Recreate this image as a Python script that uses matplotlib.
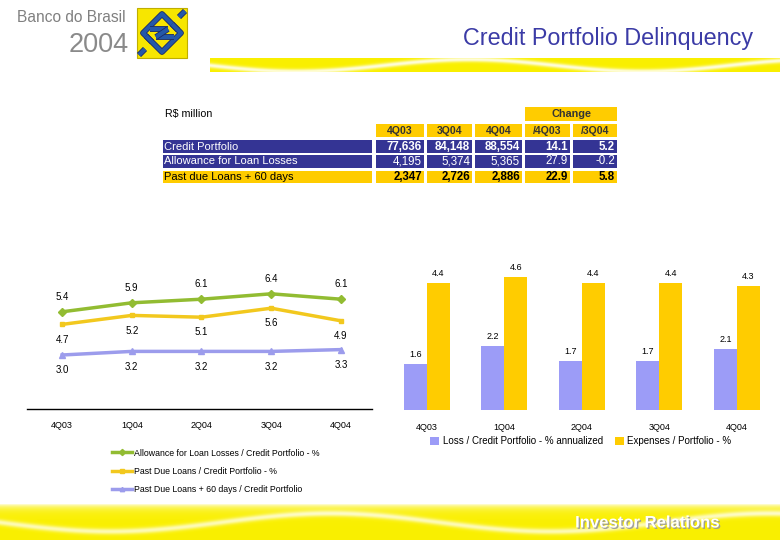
import numpy as np
import matplotlib.pyplot as plt
from matplotlib.patches import Rectangle
import matplotlib.patheffects as pe

plt.rcParams['font.family'] = ['Liberation Sans', 'DejaVu Sans']

# chart data
quarters = ['4Q03', '1Q04', '2Q04', '3Q04', '4Q04']
allowance_pct = [5.4, 5.9, 6.1, 6.4, 6.1]
past_due_pct = [4.7, 5.2, 5.1, 5.6, 4.9]
past_due_60_pct = [3.0, 3.2, 3.2, 3.2, 3.3]
loss_pct = [1.6, 2.2, 1.7, 1.7, 2.1]
expenses_pct = [4.4, 4.6, 4.4, 4.4, 4.3]

# table data (R$ million)
table_cols = ['4Q03', '3Q04', '4Q04', '/4Q03', '/3Q04']
table_rows = ['Credit Portfolio', 'Allowance for Loan Losses', 'Past due Loans + 60 days']
credit_portfolio = ['77,636', '84,148', '88,554', '14.1', '5.2']
allowance = ['4,195', '5,374', '5,365', '27.9', '-0.2']
past_due_60 = ['2,347', '2,726', '2,886', '22.9', '5.8']

GREEN = '#92bc32'
GOLD = '#f2c81e'
LILAC = '#9c9cec'
BAR_BLUE = '#9c9cf7'
BAR_YEL = '#ffcc00'
NAVY = '#343494'
W, H = 780, 540

fig = plt.figure(figsize=(7.8, 5.4), dpi=100)
bg = fig.add_axes([0, 0, 1, 1])
bg.axis('off')


def band(x0, x1, y0, y1, wave):
    xs = np.arange(x0, x1)
    ys = np.arange(y0, y1)
    X, Y = np.meshgrid(xs, ys)
    w = np.clip(wave(X, Y), 0, 1)
    yel = np.array([0.98, 0.94, 0.0])
    img = yel[None, None, :] * (1 - w[..., None]) + w[..., None]
    bg.imshow(img, extent=(x0, x1, y1, y0), aspect='auto', zorder=0)


# top yellow band with soft highlights
band(210, 780, 58, 72,
     lambda X, Y: 0.85 * np.exp(-((Y - (65 + 6 * np.sin((X - 210) / 55.0))) / 2.5) ** 2))
# bottom yellow band
band(0, 780, 503, 540,
     lambda X, Y: np.exp(-(Y - 503) / 4.0)
     + 0.7 * np.exp(-((Y - (522 + 9 * np.sin(X / 70.0))) / 3.0) ** 2))

bg.set_xlim(0, W)
bg.set_ylim(H, 0)

# header
bg.text(17, 18, 'Banco do Brasil', fontsize=11.2, color='#808080', va='center', ha='left')
bg.text(129, 45, '2004', fontsize=19.5, color='#8a8a8a', va='center', ha='right')
bg.text(753, 38, 'Credit Portfolio Delinquency', fontsize=16.8, color='#3b3ba6',
        va='center', ha='right')

# logo
bg.add_patch(Rectangle((137, 8), 50, 50, fc='#f7e600', ec='#bfae00', lw=0.8, zorder=2))
logo_paths = [[(152, 42), (143, 33), (162, 14), (178, 30)],
              [(172, 24), (181, 33), (162, 52), (146, 36)],
              [(150, 29), (168, 29)], [(156, 37), (174, 37)],
              [(168, 29), (156, 37)],
              [(139, 55), (145, 49)], [(179, 17), (185, 11)]]
for pts in logo_paths:
    xs, ys = zip(*pts)
    bg.plot(xs, ys, color='#2458a8', lw=3.0, solid_capstyle='butt', zorder=3,
            path_effects=[pe.Stroke(linewidth=4.2, foreground='#1a2a66'), pe.Normal()])

# table
bg.text(165, 114, 'R\\$ million', fontsize=7.7, va='center', ha='left')
col_x = [(376, 424), (427, 472), (475, 522), (525, 570), (573, 617)]
row_y = [(140, 153), (155, 168), (171, 183)]
row_vals = [credit_portfolio, allowance, past_due_60]
row_fc = [NAVY, NAVY, BAR_YEL]
row_tc = ['white', 'white', 'black']
row_fw = ['bold', 'normal', 'bold']

bg.add_patch(Rectangle((525, 107), 92, 14, fc=BAR_YEL, ec='none'))
bg.text(571, 114, 'Change', fontsize=7.8, fontweight='bold', color='#333333', ha='center', va='center')
for (a, b), c in zip(col_x, table_cols):
    bg.add_patch(Rectangle((a, 124), b - a, 13, fc=BAR_YEL, ec='none'))
    bg.text((a + b) / 2, 130.5, c, fontsize=7.6, fontweight='bold', color='#333333',
            ha='center', va='center')
for (y0, y1), name, vals, fc, tc, fw in zip(row_y, table_rows, row_vals, row_fc, row_tc, row_fw):
    bg.add_patch(Rectangle((163, y0), 372 - 163, y1 - y0, fc=fc, ec='none'))
    bg.text(164, (y0 + y1) / 2, name, fontsize=8, color=tc, ha='left', va='center')
    for (a, b), v in zip(col_x, vals):
        bg.add_patch(Rectangle((a, y0), b - a, y1 - y0, fc=fc, ec='none'))
        bg.text(b - 2, (y0 + y1) / 2, v, fontsize=8.3, color=tc, fontweight=fw,
                ha='right', va='center')

# footer text
bg.text(647, 523, 'Investor Relations', fontsize=12, fontweight='bold', color='white',
        ha='center', va='center',
        path_effects=[pe.withSimplePatchShadow(offset=(1, -1), shadow_rgbFace='#999999', alpha=0.9)])

# line chart
ax1 = fig.add_axes([27.25 / W, 1 - 409 / H, 345 / W, 144 / H])
x = np.arange(len(quarters))
l1, = ax1.plot(x, allowance_pct, color=GREEN, lw=2.5, marker='D', ms=4.5)
l2, = ax1.plot(x, past_due_pct, color=GOLD, lw=2.5, marker='s', ms=3.5)
l3, = ax1.plot(x, past_due_60_pct, color=LILAC, lw=2.5, marker='^', ms=4.5)
for i in x:
    ax1.annotate(f'{allowance_pct[i]:.1f}', (i, allowance_pct[i]), xytext=(0, 11),
                 textcoords='offset points', ha='center', va='center', fontsize=7)
    ax1.annotate(f'{past_due_pct[i]:.1f}', (i, past_due_pct[i]), xytext=(0, -11),
                 textcoords='offset points', ha='center', va='center', fontsize=7)
    ax1.annotate(f'{past_due_60_pct[i]:.1f}', (i, past_due_60_pct[i]), xytext=(0, -11),
                 textcoords='offset points', ha='center', va='center', fontsize=7)
ax1.set_xlim(-0.5, 4.45)
ax1.set_ylim(0, 8)
ax1.set_xticks(x)
ax1.set_xticklabels(quarters, fontsize=6.5)
ax1.set_yticks([])
ax1.tick_params(axis='x', length=0, pad=9)
for s in ['top', 'right', 'left']:
    ax1.spines[s].set_visible(False)
ax1.spines['bottom'].set_linewidth(1.0)
ax1.patch.set_alpha(0)

fig.legend([l1, l2, l3],
           ['Allowance for Loan Losses / Credit Portfolio - %',
            'Past Due Loans / Credit Portfolio - %',
            'Past Due Loans + 60 days / Credit Portfolio'],
           loc='upper left', bbox_to_anchor=(108 / W, 1 - 445 / H), frameon=False,
           fontsize=6.3, handlelength=2.3, labelspacing=1.05, handletextpad=0.3,
           borderaxespad=0, markerscale=0.7)

# bar chart
ax2 = fig.add_axes([388 / W, 1 - 410 / H, 387.5 / W, 28.9 * 5.5 / H])
bw = 0.295
b1 = ax2.bar(x - bw / 2, loss_pct, width=bw, color=BAR_BLUE)
b2 = ax2.bar(x + bw / 2, expenses_pct, width=bw, color=BAR_YEL)
for i in x:
    ax2.annotate(f'{loss_pct[i]:.1f}', (i - bw / 2, loss_pct[i]), xytext=(0, 7),
                 textcoords='offset points', ha='center', va='center', fontsize=6.5)
    ax2.annotate(f'{expenses_pct[i]:.1f}', (i + bw / 2, expenses_pct[i]), xytext=(0, 7),
                 textcoords='offset points', ha='center', va='center', fontsize=6.5)
ax2.set_xlim(-0.5, 4.5)
ax2.set_ylim(0, 5.5)
ax2.set_xticks(x)
ax2.set_xticklabels(quarters, fontsize=6.5)
ax2.set_yticks([])
ax2.tick_params(axis='x', length=0, pad=9)
for s in ax2.spines.values():
    s.set_visible(False)
ax2.patch.set_alpha(0)

fig.legend([b1, b2], ['Loss / Credit Portfolio - % annualized', 'Expenses / Portfolio - %'],
           loc='center', bbox_to_anchor=(581 / W, 1 - 441 / H), ncol=2, frameon=False,
           fontsize=7, handlelength=0.9, handleheight=0.9, columnspacing=1.2,
           handletextpad=0.4, borderaxespad=0)

fig.savefig('out.png', dpi=100)
